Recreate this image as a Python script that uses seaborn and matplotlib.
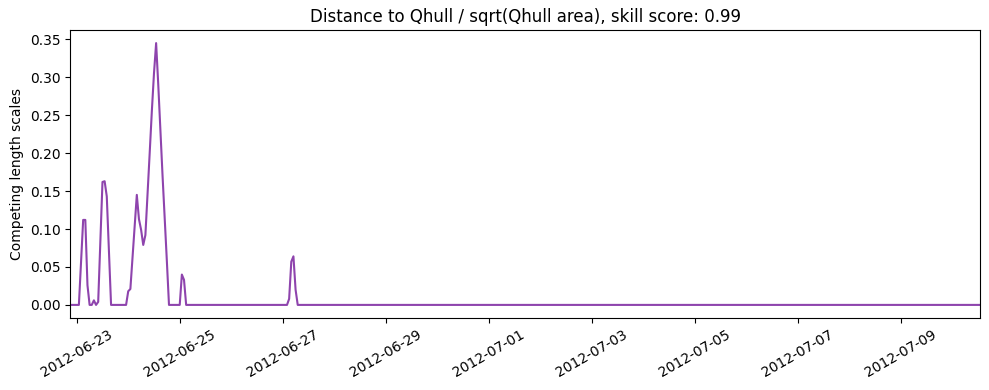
import matplotlib
matplotlib.use("Agg")
import matplotlib.pyplot as plt
import matplotlib.dates as mdates
import numpy as np
import pandas as pd
import seaborn as sns

# Hourly timestamps of the series
start_time = "2012-06-22 21:00"
end_time = "2012-07-10 13:00"

# Values (hour -3 .. 103 relative to 2012-06-23 00:00)
early_values = [
    0.0, 0.0, 0.0, 0.0,            # -3..0
    0.0, 0.056, 0.112, 0.112, 0.026, 0.0, 0.0, 0.006, 0.0, 0.004,   # 1..10
    0.083, 0.162, 0.163, 0.143, 0.07, 0.0,                         # 11..16
    0.0, 0.0, 0.0, 0.0, 0.0, 0.0, 0.0,                             # 17..23
    0.018, 0.021, 0.062, 0.104, 0.145, 0.113, 0.099, 0.079, 0.092, # 24..32
    0.145, 0.200, 0.255, 0.305, 0.345, 0.29, 0.23, 0.17, 0.115,    # 33..41
    0.058, 0.0, 0.0, 0.0, 0.0, 0.0, 0.0, 0.040, 0.033, 0.0,        # 42..51
]
# hours 52..97 flat zero
mid_zero_count = 46
spike_values = [0.0, 0.008, 0.057, 0.064, 0.02, 0.0]   # 98..103
# hours 104..421 flat zero
late_zero_count = 318

values = early_values + [0.0] * mid_zero_count + spike_values + [0.0] * late_zero_count
times = pd.date_range(start_time, end_time, freq="h")
df = pd.DataFrame({"time": times, "value": values[:len(times)]})

title = "Distance to Qhull / sqrt(Qhull area), skill score: 0.99"
ylabel = "Competing length scales"
line_color = "#8e44ad"

W, H = 989, 390
fig, ax = plt.subplots(figsize=(W / 100, H / 100), dpi=100)
sns.lineplot(data=df, x="time", y="value", color=line_color, linewidth=1.5, ax=ax)
ax.set_xlim(df["time"].iloc[0], df["time"].iloc[-1])
ax.xaxis.set_major_locator(mdates.DayLocator(bymonthday=range(1, 32, 2)))
ax.xaxis.set_major_formatter(mdates.DateFormatter("%Y-%m-%d"))
plt.setp(ax.get_xticklabels(), rotation=30)
ax.set_xlabel("")
ax.set_ylabel(ylabel)
ax.set_title(title)
fig.subplots_adjust(left=70.3 / W, right=980 / W, top=1 - 30 / H, bottom=1 - 318 / H)
fig.savefig("out.png", dpi=100)
